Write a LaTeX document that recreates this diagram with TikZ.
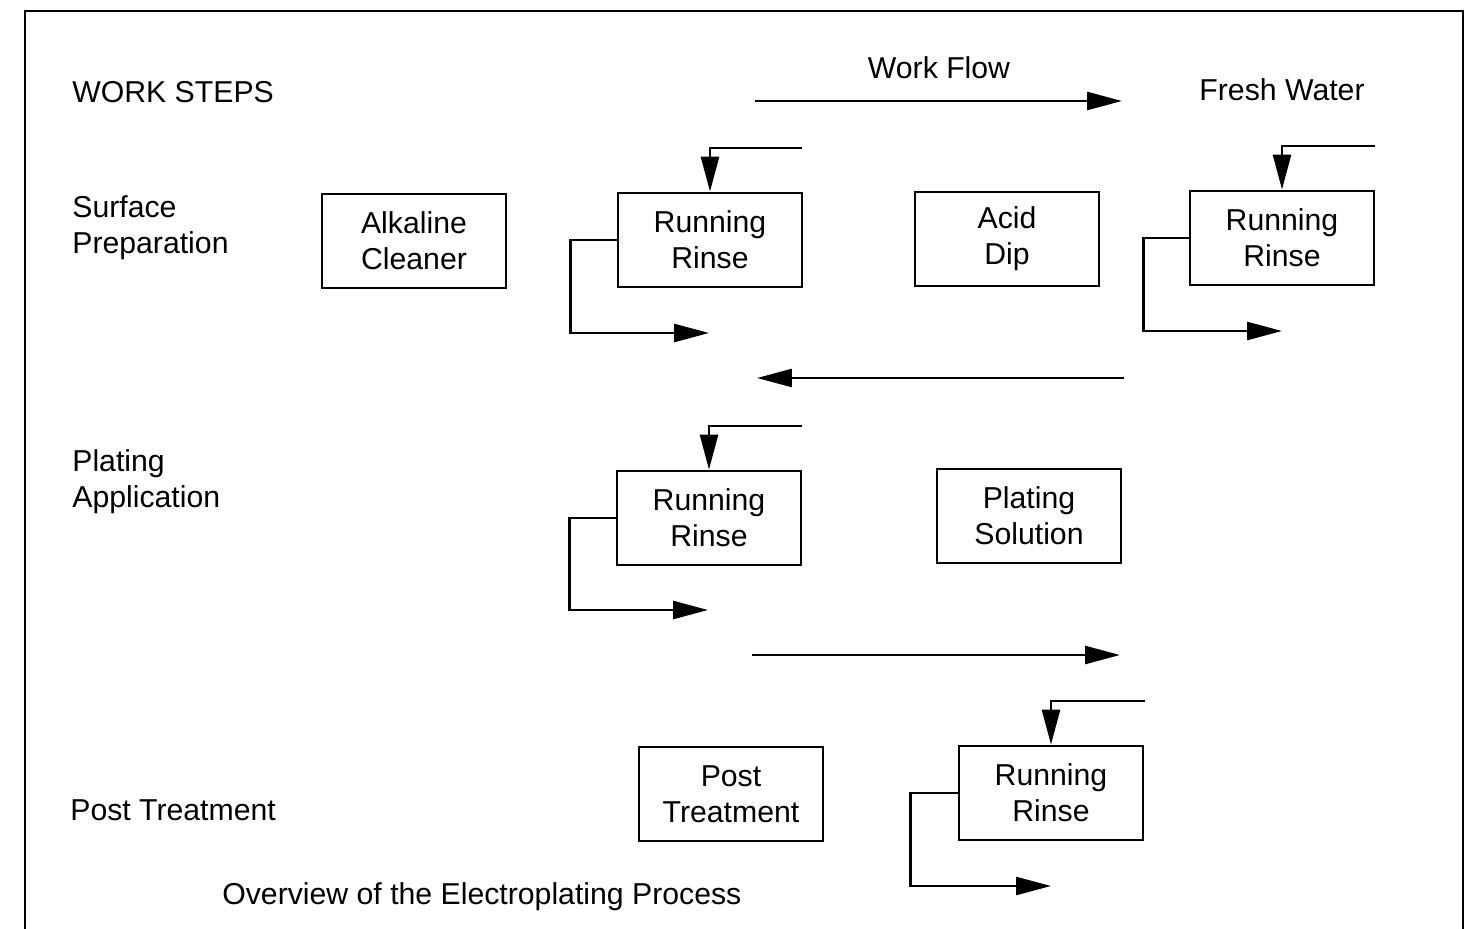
\documentclass[tikz,border=0pt]{standalone}
\usepackage{fontspec}
\setmainfont{Liberation Sans}
\usetikzlibrary{arrows.meta,positioning}

\begin{document}
\begin{tikzpicture}[x=0.02cm,y=-0.02cm,
    box/.style={draw, line width=1.6pt, minimum width=3.68cm,
      minimum height=1.88cm, align=center, inner sep=0pt,
      font=\fontsize{17.2}{20.5}\selectfont},
    lbl/.style={anchor=west, align=left, inner sep=0pt,
      font=\fontsize{17.2}{20.5}\selectfont},
    flow/.style={->, line width=1.5pt},
    >={Triangle[length=0.7cm,width=0.36cm]}
  ]
  \useasboundingbox (0,0) rectangle (1475,929);
  \draw[line width=1.6pt] (25,929) -- (25,11) -- (1463,11) -- (1463,929);

  % row labels
  \node[lbl] (steps) at (72,92) {WORK STEPS};
  \node[lbl] (surf) at (72,228) {Surface\\Preparation};
  \node[lbl] (plat) at (72,482) {Plating\\Application};
  \node[lbl] (post) at (70,810) {Post Treatment};
  \node[lbl] (title) at (222,897) {Overview of the Electroplating Process};
  \node[lbl, anchor=center] (wflow) at (939,68) {Work Flow};
  \node[lbl, anchor=center] (fresh) at (1282,90) {Fresh Water};

  % tanks
  \node[box] (alk) at (414,241) {Alkaline\\Cleaner};
  \node[box] (rr1) at (710,240) {Running\\Rinse};
  \node[box] (acid) at (1007,239) {Acid\\Dip};
  \node[box] (rr2) at (1282,238) {Running\\Rinse};
  \node[box] (rr3) at (709,518) {Running\\Rinse};
  \node[box] (plsol) at (1029,516) {Plating\\Solution};
  \node[box] (ptr) at (731,794) {Post\\Treatment};
  \node[box] (rr4) at (1051,793) {Running\\Rinse};

  % work flow direction
  \coordinate (f1a) at (755,101);  \coordinate (f1b) at (1122,101);
  \coordinate (f2a) at (1124,378); \coordinate (f2b) at (757,378);
  \coordinate (f3a) at (752,655);  \coordinate (f3b) at (1120,655);
  \draw[flow] (f1a) -- (f1b);
  \draw[flow] (f2a) -- (f2b);
  \draw[flow] (f3a) -- (f3b);

  % fresh water in
  \coordinate (in1) at (802,148);
  \coordinate (in2) at (1375,146);
  \coordinate (in3) at (802,426);
  \coordinate (in4) at (1145,701);
  \draw[flow] (in1) -| (rr1.north);
  \draw[flow] (in2) -| (rr2.north);
  \draw[flow] (in3) -| (rr3.north);
  \draw[flow] (in4) -| (rr4.north);

  % rinse water out
  \coordinate (out1) at (709,333);
  \coordinate (out2) at (1282,331);
  \coordinate (out3) at (708,610);
  \coordinate (out4) at (1051,886);
  \draw[flow] (rr1.west) -- ++(-46,0) |- (out1);
  \draw[flow] (rr2.west) -- ++(-45,0) |- (out2);
  \draw[flow] (rr3.west) -- ++(-46,0) |- (out3);
  \draw[flow] (rr4.west) -- ++(-47,0) |- (out4);
\end{tikzpicture}
\end{document}
